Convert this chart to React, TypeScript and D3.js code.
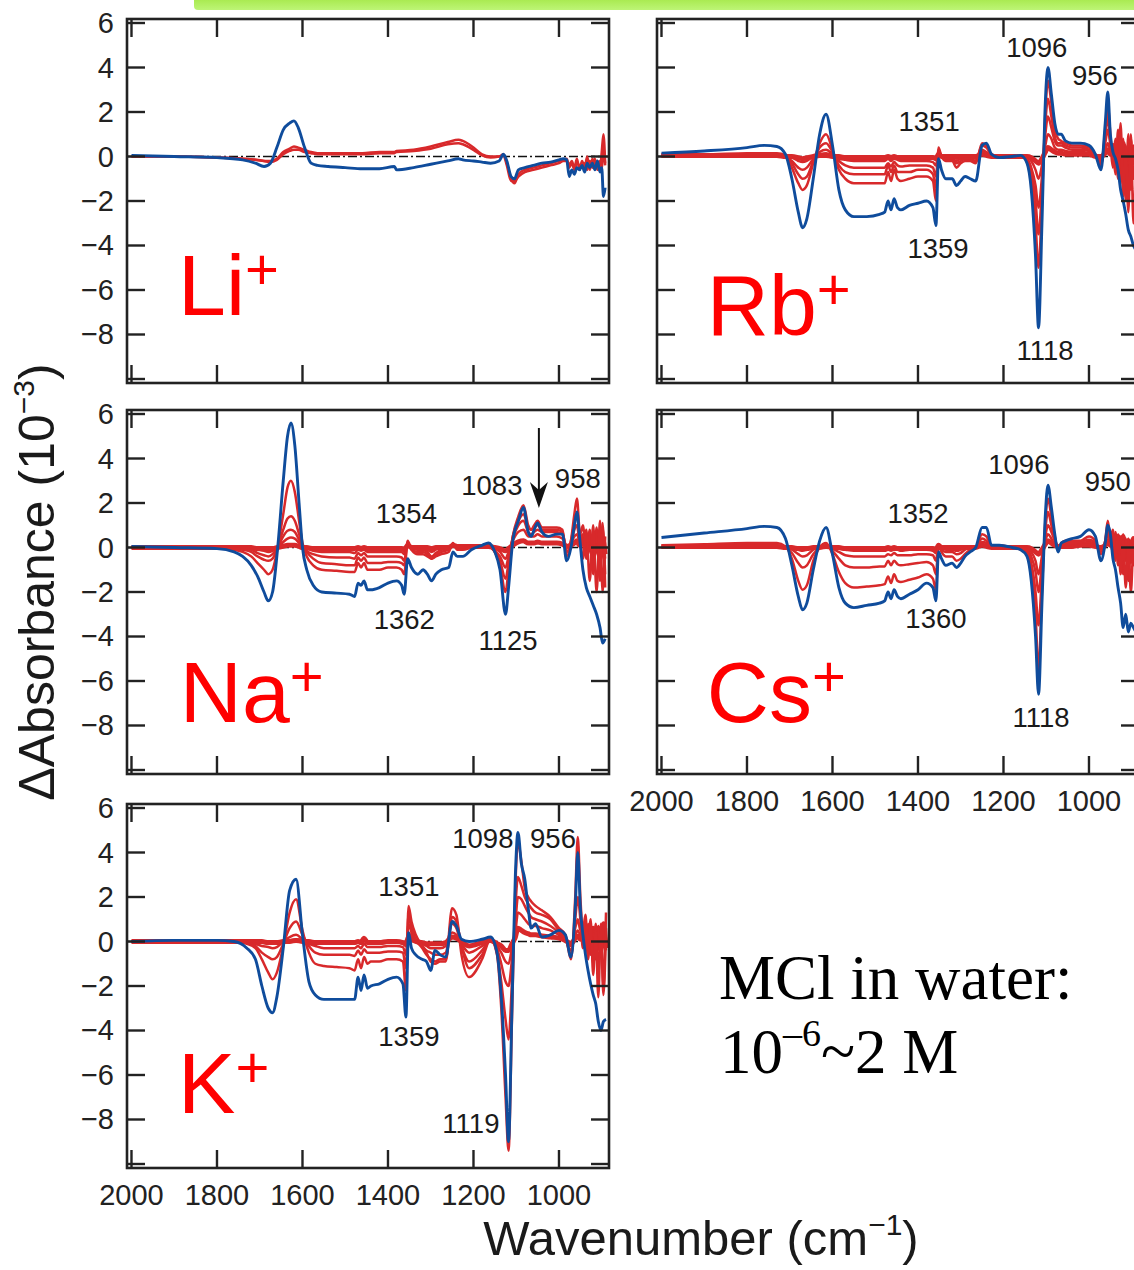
import React from 'react';
import * as d3 from 'd3';

const W = 1134;
const H = 1270;
const PW = 482;
const PH = 364;

// wavenumber grids (cm-1)
const liWn = [2000, 1900, 1800, 1740, 1710, 1690, 1675, 1660, 1645, 1630, 1620, 1610, 1595, 1580, 1565, 1540, 1500, 1460, 1420, 1385, 1380, 1340, 1300, 1260, 1235, 1225, 1200, 1180, 1160, 1140, 1130, 1122, 1112, 1104, 1095, 1080, 1060, 1040, 1020, 1000, 990, 982, 976, 970, 964, 958, 952, 946, 940, 934, 928, 922, 916, 910, 904, 900, 896, 892];
const naWn = [2000, 1900, 1800, 1760, 1740, 1720, 1705, 1690, 1680, 1670, 1658, 1645, 1635, 1627, 1618, 1608, 1600, 1590, 1575, 1555, 1520, 1490, 1478, 1470, 1463, 1456, 1448, 1440, 1420, 1400, 1380, 1368, 1362, 1354, 1345, 1330, 1318, 1308, 1298, 1288, 1275, 1258, 1248, 1238, 1225, 1205, 1180, 1165, 1150, 1138, 1125, 1118, 1108, 1095, 1083, 1072, 1065, 1058, 1050, 1040, 1025, 1005, 992, 982, 972, 964, 958, 952, 944, 936, 928, 920, 912, 904, 898, 892];
// shared by Rb, Cs and K
const heavyWn = [2000, 1900, 1800, 1760, 1730, 1710, 1695, 1680, 1670, 1660, 1645, 1630, 1615, 1600, 1585, 1570, 1550, 1520, 1490, 1478, 1470, 1463, 1456, 1448, 1440, 1420, 1400, 1380, 1365, 1358, 1352, 1345, 1335, 1320, 1310, 1300, 1290, 1278, 1265, 1250, 1240, 1228, 1210, 1180, 1160, 1145, 1135, 1125, 1118, 1110, 1102, 1096, 1088, 1080, 1072, 1065, 1055, 1040, 1020, 1000, 985, 972, 962, 956, 950, 944, 938, 932, 926, 920, 914, 908, 902, 896, 890];

// Li+  (ΔA, 10^-3)
const liBlue = [0.05, 0.0, -0.05, -0.15, -0.3, -0.45, -0.3, 0.4, 1.2, 1.5, 1.6, 1.3, 0.4, -0.3, -0.4, -0.45, -0.5, -0.55, -0.55, -0.45, -0.6, -0.5, -0.35, -0.2, -0.1, -0.15, -0.2, -0.25, -0.3, -0.2, 0.1, -0.2, -0.9, -1.0, -0.6, -0.5, -0.4, -0.3, -0.25, -0.15, -0.1, -0.15, -0.9, -0.6, -0.8, -0.5, -0.6, -0.4, -0.7, -0.3, -0.5, -0.3, -0.6, -0.2, -0.7, -0.5, -1.8, -1.4];
const liRed1 = [0.0, 0.0, -0.05, -0.1, -0.15, -0.2, -0.2, -0.1, 0.2, 0.35, 0.45, 0.4, 0.3, 0.2, 0.15, 0.15, 0.15, 0.15, 0.2, 0.2, 0.25, 0.3, 0.45, 0.65, 0.75, 0.7, 0.4, 0.1, 0.0, 0.0, 0.1, -0.3, -1.0, -1.2, -0.8, -0.6, -0.5, -0.4, -0.3, -0.2, -0.15, -0.1, -0.4, -0.2, -0.5, -0.1, -0.6, -0.2, -0.5, 0.0, -0.6, -0.1, -0.4, -0.2, -0.5, 0.2, 1.0, -0.3];
const liRed2 = [0.0, 0.0, -0.05, -0.1, -0.15, -0.2, -0.25, -0.15, 0.1, 0.25, 0.3, 0.3, 0.2, 0.15, 0.1, 0.1, 0.1, 0.1, 0.15, 0.15, 0.2, 0.25, 0.35, 0.55, 0.6, 0.55, 0.3, 0.05, -0.05, 0.0, 0.05, -0.4, -1.1, -1.1, -0.9, -0.7, -0.6, -0.5, -0.4, -0.3, -0.2, -0.2, -0.5, -0.3, -0.6, -0.3, -0.4, -0.5, -0.3, -0.6, -0.2, -0.5, -0.1, -0.6, -0.2, -0.6, 0.4, -0.4];

// Rb+
const rbBlue = [0.15, 0.25, 0.4, 0.5, 0.45, 0.1, -1.0, -2.5, -3.2, -2.8, -1.0, 1.0, 1.9, 0.5, -1.5, -2.4, -2.7, -2.7, -2.6, -2.5, -2.0, -2.4, -1.9, -2.3, -2.4, -2.2, -2.1, -2.0, -2.3, -3.1, -0.1, -0.6, -1.0, -1.0, -1.3, -1.1, -0.9, -1.0, -1.1, 0.5, 0.6, 0.1, -0.05, 0.0, 0.05, -0.3, -1.5, -4.5, -7.7, -3.0, 2.5, 4.0, 2.8, 1.5, 1.0, 1.0, 0.7, 0.6, 0.6, 0.5, 0.1, -0.6, 1.5, 2.9, 1.0, 0.2, -0.1, -0.6, -1.5, -2.0, -2.6, -3.3, -3.6, -4.0, -4.2];
const rbRed1 = [0.1, 0.1, 0.15, 0.15, 0.15, 0.05, -0.5, -1.2, -1.5, -1.3, -0.3, 0.6, 1.0, 0.3, -0.6, -1.0, -1.2, -1.2, -1.2, -1.2, -0.7, -1.1, -0.6, -1.0, -1.1, -1.0, -0.9, -0.9, -1.1, -2.0, 0.4, 0.0, -0.2, -0.2, -0.5, -0.3, -0.2, -0.2, -0.3, 0.6, 0.5, 0.1, 0.0, 0.0, 0.0, -0.2, -1.0, -3.0, -5.0, -2.0, 2.0, 3.4, 2.4, 1.2, 0.8, 0.7, 0.6, 0.5, 0.5, 0.4, 0.1, -0.4, 1.2, 2.3, 1.0, -0.2, 0.8, -1.0, 1.5, -1.8, 0.5, -2.5, 1.0, -3.0, 0.0];
const rbRed2 = [0.05, 0.1, 0.1, 0.1, 0.1, 0.0, -0.3, -0.8, -1.0, -0.9, -0.2, 0.4, 0.6, 0.2, -0.4, -0.7, -0.8, -0.8, -0.8, -0.8, -0.4, -0.7, -0.4, -0.7, -0.7, -0.7, -0.6, -0.6, -0.8, -1.4, 0.3, 0.0, -0.1, -0.1, -0.3, -0.2, -0.1, -0.1, -0.2, 0.5, 0.4, 0.1, 0.0, 0.0, 0.0, -0.1, -0.7, -2.0, -3.5, -1.4, 1.5, 2.6, 1.8, 0.9, 0.6, 0.6, 0.5, 0.4, 0.4, 0.3, 0.0, -0.3, 0.9, 1.8, 0.7, 0.3, -0.8, 1.2, -1.2, 0.8, -2.0, 1.0, -1.5, 0.5, -2.0];
const rbRed3 = [0.05, 0.05, 0.05, 0.05, 0.05, 0.0, -0.2, -0.5, -0.6, -0.5, -0.1, 0.2, 0.3, 0.1, -0.2, -0.4, -0.5, -0.5, -0.5, -0.5, -0.3, -0.45, -0.25, -0.4, -0.45, -0.4, -0.4, -0.4, -0.5, -0.9, 0.2, 0.0, -0.1, -0.1, -0.2, -0.1, -0.1, -0.05, -0.1, 0.3, 0.2, 0.05, 0.0, 0.0, 0.0, -0.1, -0.5, -1.3, -2.3, -0.9, 1.0, 1.8, 1.3, 0.7, 0.5, 0.5, 0.4, 0.3, 0.3, 0.25, 0.0, -0.2, 0.6, 1.2, 0.5, -0.5, 0.6, -0.8, 1.0, -1.0, 0.4, -1.2, 0.8, -1.0, 0.3];
const rbRed4 = [0.0, 0.0, 0.0, 0.0, 0.0, 0.0, -0.05, -0.2, -0.25, -0.2, 0.0, 0.1, 0.15, 0.05, -0.1, -0.15, -0.2, -0.2, -0.2, -0.2, -0.1, -0.2, -0.1, -0.15, -0.2, -0.2, -0.2, -0.2, -0.25, -0.4, 0.15, 0.0, 0.0, 0.0, -0.1, -0.05, 0.0, 0.0, -0.05, 0.2, 0.1, 0.0, 0.0, 0.0, 0.0, 0.0, -0.2, -0.6, -1.0, -0.4, 0.5, 1.0, 0.8, 0.4, 0.3, 0.3, 0.25, 0.2, 0.2, 0.15, 0.0, -0.1, 0.3, 0.6, 0.3, 0.4, -0.4, 0.6, -0.6, 0.3, -0.8, 0.5, -0.5, 0.2, -0.6];
const rbBand = [0.05, 0.05, 0.05, 0.05, 0.05, 0.0, 0.0, -0.05, -0.1, -0.05, 0.0, 0.05, 0.05, 0.0, 0.0, -0.05, -0.05, -0.05, -0.05, -0.05, 0.0, -0.05, 0.0, -0.05, -0.05, -0.05, -0.05, -0.05, -0.05, -0.1, 0.1, 0.0, 0.0, 0.0, 0.0, 0.0, 0.0, 0.0, 0.0, 0.1, 0.05, 0.0, 0.0, 0.0, 0.0, 0.0, -0.05, -0.2, -0.3, -0.1, 0.2, 0.4, 0.3, 0.2, 0.15, 0.15, 0.1, 0.1, 0.1, 0.1, 0.0, 0.0, 0.15, 0.3, 0.1, 0.5, -0.3, 0.4, -0.4, 0.6, -0.5, 0.3, -0.3, 0.4, -0.2];

// Na+
const naBlue = [0.05, 0.0, -0.05, -0.2, -0.4, -0.8, -1.3, -2.0, -2.4, -2.0, 0.0, 3.0, 5.0, 5.6, 4.6, 2.0, 0.0, -1.0, -1.7, -2.0, -2.05, -2.1, -2.2, -1.6, -1.7, -1.5, -1.9, -1.9, -1.8, -1.6, -1.5, -1.7, -2.1, -0.5, -0.9, -1.2, -1.0, -1.2, -1.5, -1.2, -1.0, -0.9, -0.2, -0.4, -0.4, -0.1, 0.1, 0.2, -0.2, -1.0, -3.0, -1.8, 0.3, 1.2, 1.8, 0.7, 0.5, 0.8, 1.1, 0.7, 0.5, 0.6, 0.6, -0.6, 0.0, 1.0, 1.6, 0.5, -1.0, -1.8, -2.2, -2.6, -3.0, -3.6, -4.3, -4.1];
const naRed1 = [0.0, 0.0, 0.0, -0.1, -0.2, -0.4, -0.7, -1.0, -1.2, -1.0, 0.0, 1.5, 2.7, 3.0, 2.5, 1.2, 0.2, -0.4, -0.8, -1.0, -1.05, -1.1, -1.1, -0.7, -0.9, -0.7, -1.0, -1.0, -1.0, -0.9, -0.9, -1.0, -1.2, 0.3, -0.1, -0.3, -0.3, -0.4, -0.5, -0.4, -0.3, -0.2, 0.2, -0.1, -0.1, 0.0, 0.1, 0.1, -0.2, -0.8, -2.0, -1.0, 0.5, 1.4, 1.9, 1.0, 0.8, 1.0, 1.2, 0.9, 0.9, 0.9, 0.8, -0.4, 0.3, 1.5, 2.2, 0.7, -0.5, 0.8, -1.5, 1.0, -2.0, 1.2, -2.0, 0.5];
const naRed2 = [0.0, 0.0, 0.0, -0.05, -0.1, -0.2, -0.4, -0.55, -0.6, -0.5, 0.0, 0.8, 1.3, 1.4, 1.2, 0.6, 0.1, -0.2, -0.5, -0.7, -0.75, -0.8, -0.8, -0.45, -0.6, -0.45, -0.7, -0.7, -0.7, -0.65, -0.65, -0.7, -0.8, 0.25, -0.1, -0.2, -0.2, -0.3, -0.5, -0.35, -0.2, -0.1, 0.15, 0.0, 0.0, 0.0, 0.05, 0.05, -0.2, -0.6, -1.4, -0.7, 0.5, 1.2, 1.5, 0.9, 0.8, 0.9, 1.0, 0.8, 0.8, 0.8, 0.7, -0.2, 0.3, 1.1, 1.5, 0.5, 1.0, -0.5, 0.8, -1.2, 0.9, -1.5, 1.1, -1.8];
const naRed3 = [0.0, 0.0, 0.0, 0.0, -0.05, -0.1, -0.25, -0.35, -0.4, -0.3, 0.0, 0.5, 0.75, 0.8, 0.7, 0.35, 0.05, -0.15, -0.3, -0.4, -0.45, -0.45, -0.5, -0.25, -0.35, -0.25, -0.4, -0.4, -0.4, -0.4, -0.4, -0.45, -0.6, 0.2, -0.05, -0.1, -0.1, -0.2, -0.4, -0.25, -0.1, -0.05, 0.1, 0.0, 0.0, 0.0, 0.05, 0.05, -0.15, -0.4, -0.9, -0.4, 0.4, 1.0, 1.2, 0.7, 0.6, 0.7, 0.8, 0.7, 0.7, 0.7, 0.6, 0.0, 0.2, 0.8, 1.0, 0.4, 0.6, -0.2, 0.6, -0.8, 0.7, -1.0, 0.9, -1.2];
const naRed4 = [0.0, 0.0, 0.0, 0.0, 0.0, -0.05, -0.1, -0.15, -0.2, -0.15, 0.0, 0.25, 0.4, 0.45, 0.4, 0.2, 0.0, -0.05, -0.15, -0.2, -0.2, -0.2, -0.25, -0.1, -0.15, -0.1, -0.2, -0.2, -0.2, -0.2, -0.2, -0.2, -0.3, 0.15, 0.0, -0.05, -0.05, -0.1, -0.2, -0.1, 0.0, 0.0, 0.1, 0.05, 0.05, 0.05, 0.05, 0.05, -0.05, -0.2, -0.5, -0.2, 0.3, 0.7, 0.8, 0.5, 0.5, 0.5, 0.6, 0.5, 0.5, 0.5, 0.4, 0.1, 0.2, 0.5, 0.6, 0.3, 0.5, 0.0, 0.5, -0.4, 0.6, -0.6, 0.5, -0.5];
const naBand = [0.0, 0.0, 0.0, 0.0, 0.0, 0.0, -0.05, -0.05, -0.05, -0.05, 0.0, 0.05, 0.1, 0.1, 0.1, 0.05, 0.0, 0.0, -0.05, -0.05, -0.05, -0.05, -0.05, 0.0, -0.05, 0.0, -0.05, -0.05, -0.05, -0.05, -0.05, -0.05, -0.1, 0.1, 0.0, 0.0, 0.0, 0.0, -0.05, 0.0, 0.0, 0.0, 0.1, 0.05, 0.05, 0.05, 0.05, 0.05, 0.0, -0.05, -0.15, -0.05, 0.1, 0.25, 0.3, 0.2, 0.2, 0.2, 0.25, 0.2, 0.2, 0.2, 0.15, 0.05, 0.1, 0.2, 0.3, 0.1, 0.4, -0.3, 0.5, -0.4, 0.6, -0.5, 0.4, -0.3];

// Cs+
const csBlue = [0.45, 0.65, 0.85, 0.95, 0.9, 0.4, -0.8, -2.2, -2.8, -2.5, -1.0, 0.3, 0.9, -0.3, -1.8, -2.5, -2.7, -2.6, -2.5, -2.4, -2.0, -2.3, -1.9, -2.2, -2.3, -2.1, -1.9, -1.6, -1.8, -2.4, -0.2, -0.5, -0.8, -0.7, -0.9, -0.7, -0.4, -0.2, 0.0, 0.9, 0.9, 0.1, 0.1, 0.0, -0.1, -0.4, -1.5, -4.0, -6.6, -2.5, 1.5, 2.8, 1.8, 0.6, -0.2, 0.2, 0.3, 0.4, 0.5, 0.8, 0.5, -0.6, 0.2, 1.0, 0.6, -0.5, -1.0, -1.8, -2.5, -3.6, -3.0, -3.8, -3.4, -3.6, -3.8];
const csRed1 = [0.1, 0.15, 0.2, 0.2, 0.2, 0.05, -0.5, -1.5, -1.9, -1.7, -0.6, 0.0, 0.2, -0.3, -1.1, -1.6, -1.8, -1.75, -1.7, -1.65, -1.3, -1.6, -1.2, -1.5, -1.55, -1.45, -1.35, -1.2, -1.4, -1.9, 0.1, -0.2, -0.4, -0.4, -0.6, -0.5, -0.3, -0.1, 0.0, 0.6, 0.5, 0.1, 0.1, 0.0, -0.1, -0.3, -1.0, -3.0, -5.5, -2.0, 1.2, 2.2, 1.4, 0.5, -0.1, 0.2, 0.3, 0.3, 0.3, 0.5, 0.3, -0.3, 0.3, 1.2, 0.4, 0.8, -0.6, 0.6, -1.2, 0.3, -1.8, 0.2, -2.0, 0.0, -1.5];
const csRed2 = [0.05, 0.1, 0.1, 0.1, 0.1, 0.0, -0.25, -0.7, -0.9, -0.8, -0.3, 0.0, 0.1, -0.15, -0.5, -0.8, -0.9, -0.9, -0.85, -0.85, -0.6, -0.8, -0.6, -0.75, -0.8, -0.75, -0.7, -0.65, -0.8, -1.2, 0.15, -0.1, -0.2, -0.2, -0.3, -0.25, -0.1, 0.0, 0.0, 0.4, 0.3, 0.05, 0.05, 0.0, -0.05, -0.2, -0.7, -2.0, -3.5, -1.2, 0.8, 1.6, 1.0, 0.4, 0.0, 0.15, 0.2, 0.2, 0.25, 0.35, 0.2, -0.2, 0.3, 0.9, 0.3, -0.2, 0.7, -0.8, 0.5, -1.2, 0.4, -1.5, 0.2, -0.8, 0.3];
const csRed3 = [0.0, 0.05, 0.05, 0.05, 0.05, 0.0, -0.1, -0.3, -0.4, -0.35, -0.1, 0.0, 0.05, -0.05, -0.2, -0.35, -0.4, -0.4, -0.4, -0.4, -0.3, -0.35, -0.25, -0.35, -0.35, -0.35, -0.3, -0.3, -0.35, -0.6, 0.1, 0.0, -0.1, -0.1, -0.15, -0.1, 0.0, 0.0, 0.0, 0.25, 0.2, 0.0, 0.0, 0.0, 0.0, -0.1, -0.4, -1.1, -2.0, -0.7, 0.5, 1.0, 0.7, 0.3, 0.05, 0.1, 0.15, 0.15, 0.2, 0.25, 0.15, -0.1, 0.2, 0.6, 0.2, 0.4, -0.3, 0.5, -0.5, 0.2, -0.6, 0.4, -0.7, 0.1, -0.4];
const csRed4 = [0.0, 0.0, 0.0, 0.0, 0.0, 0.0, -0.05, -0.1, -0.15, -0.1, 0.0, 0.0, 0.0, 0.0, -0.05, -0.1, -0.15, -0.15, -0.15, -0.15, -0.1, -0.15, -0.1, -0.1, -0.15, -0.1, -0.1, -0.1, -0.15, -0.25, 0.05, 0.0, 0.0, 0.0, -0.05, 0.0, 0.0, 0.0, 0.0, 0.15, 0.1, 0.0, 0.0, 0.0, 0.0, 0.0, -0.2, -0.6, -1.2, -0.4, 0.3, 0.6, 0.4, 0.15, 0.0, 0.05, 0.1, 0.1, 0.1, 0.15, 0.1, 0.0, 0.1, 0.3, 0.1, 0.6, -0.3, 0.5, -0.4, 0.6, -0.5, 0.3, -0.4, 0.2, -0.3];
const csBand = [0.05, 0.05, 0.05, 0.05, 0.05, 0.0, 0.0, -0.05, -0.05, -0.05, 0.0, 0.0, 0.05, 0.0, 0.0, -0.05, -0.05, -0.05, -0.05, -0.05, 0.0, -0.05, 0.0, -0.05, -0.05, -0.05, -0.05, -0.05, -0.05, -0.1, 0.1, 0.0, 0.0, 0.0, 0.0, 0.0, 0.0, 0.0, 0.0, 0.1, 0.05, 0.0, 0.0, 0.0, 0.0, 0.0, -0.05, -0.2, -0.3, -0.1, 0.15, 0.3, 0.2, 0.1, 0.05, 0.05, 0.05, 0.05, 0.1, 0.1, 0.05, 0.0, 0.1, 0.3, 0.1, 0.4, -0.3, 0.5, -0.4, 0.5, -0.5, 0.3, -0.3, 0.4, -0.2];

// K+
const kBlue = [0.0, 0.05, 0.05, 0.0, -0.3, -0.8, -2.0, -3.0, -3.2, -2.5, -0.3, 2.3, 2.8, 0.3, -1.8, -2.4, -2.6, -2.6, -2.6, -2.6, -1.6, -2.2, -1.5, -2.1, -2.0, -1.9, -1.7, -1.6, -1.9, -3.4, 0.4, -0.3, -0.6, -0.8, -0.9, -1.3, -0.4, -0.6, -0.7, 0.9, 0.7, 0.1, 0.0, 0.1, 0.2, -0.5, -2.5, -6.0, -9.0, -3.0, 3.0, 4.9, 3.5, 2.8, 1.5, 0.6, 0.8, 0.2, 0.3, 0.5, 0.3, -0.7, 1.5, 4.0, 1.5, 0.3, -0.6, -1.3, -1.9, -2.4, -2.8, -3.6, -4.0, -3.6, -3.5];
const kRed1 = [0.0, 0.0, 0.05, 0.0, -0.1, -0.3, -0.8, -1.4, -1.7, -1.4, -0.2, 1.3, 1.9, 0.5, -0.5, -1.0, -1.1, -1.15, -1.2, -1.3, -0.8, -1.2, -0.7, -1.0, -0.9, -0.9, -0.8, -0.8, -0.9, -2.2, 1.6, 0.9, 0.3, -0.2, -0.5, -0.9, -1.0, -0.9, -0.9, 1.5, 1.2, -0.6, -1.6, -0.8, 0.1, -0.6, -3.0, -7.0, -9.4, -3.5, 2.5, 4.5, 3.6, 2.4, 2.0, 1.8, 1.6, 1.4, 1.1, 0.6, 0.3, -0.8, 2.0, 4.7, 2.0, 0.5, 1.2, -0.5, 1.0, -1.5, 0.5, -2.5, 0.8, -2.0, 1.3];
const kRed2 = [0.0, 0.0, 0.0, 0.0, -0.05, -0.2, -0.5, -0.7, -0.8, -0.7, -0.1, 0.6, 0.9, 0.3, -0.2, -0.5, -0.6, -0.6, -0.6, -0.65, -0.4, -0.6, -0.35, -0.5, -0.5, -0.5, -0.45, -0.45, -0.5, -1.2, 1.2, 0.6, 0.1, -0.3, -0.6, -0.8, -0.9, -0.8, -0.8, 1.1, 0.9, -0.2, -1.2, -0.6, 0.1, -0.5, -1.8, -3.5, -4.4, -1.8, 1.5, 2.9, 2.5, 2.0, 1.7, 1.5, 1.3, 1.2, 1.0, 0.5, 0.2, -0.6, 1.0, 2.0, 1.0, -0.3, 0.9, -0.8, 0.6, -1.0, 0.8, -1.5, 0.4, -2.4, 0.6];
const kRed3 = [0.0, 0.0, 0.0, 0.0, 0.0, -0.1, -0.2, -0.25, -0.3, -0.25, 0.0, 0.2, 0.3, 0.1, -0.1, -0.2, -0.3, -0.3, -0.3, -0.3, -0.2, -0.3, -0.1, -0.25, -0.25, -0.25, -0.2, -0.2, -0.25, -0.6, 0.8, 0.4, 0.0, -0.2, -0.4, -0.5, -0.6, -0.6, -0.5, 0.8, 0.6, -0.2, -0.9, -0.4, 0.1, -0.3, -1.0, -1.8, -2.0, -0.8, 0.8, 2.0, 1.9, 1.6, 1.3, 1.1, 1.0, 0.9, 0.7, 0.4, 0.1, -0.4, 0.6, 1.0, 0.5, 0.6, -0.4, 0.8, -0.6, 0.5, -0.8, 0.7, -0.6, 0.3, -0.4];
const kRed4 = [0.0, 0.0, 0.0, 0.0, 0.0, 0.0, -0.05, -0.1, -0.1, -0.1, 0.0, 0.05, 0.1, 0.05, -0.05, -0.1, -0.1, -0.1, -0.1, -0.1, -0.05, -0.1, 0.1, -0.1, -0.1, -0.1, -0.05, -0.05, -0.1, -0.2, 0.4, 0.2, 0.0, -0.1, -0.2, -0.3, -0.3, -0.3, -0.2, 0.4, 0.3, -0.1, -0.5, -0.2, 0.05, -0.2, -0.5, -0.9, -1.0, -0.3, 0.4, 1.3, 1.2, 1.0, 0.8, 0.7, 0.7, 0.6, 0.5, 0.3, 0.1, -0.2, 0.3, 0.5, 0.3, 0.3, -0.2, 0.5, -0.3, 0.4, -0.4, 0.5, -0.3, 0.2, -0.2];
const kBand = [0.0, 0.0, 0.0, 0.0, 0.0, 0.0, 0.0, -0.05, -0.05, -0.05, 0.0, 0.0, 0.05, 0.0, 0.0, -0.05, -0.05, -0.05, -0.05, -0.05, 0.0, -0.05, 0.15, -0.05, -0.05, -0.05, 0.0, 0.0, -0.05, -0.1, 0.2, 0.1, 0.0, -0.05, -0.1, -0.1, -0.1, -0.1, -0.05, 0.2, 0.15, 0.0, -0.2, -0.05, 0.05, -0.1, -0.2, -0.4, -0.4, -0.1, 0.2, 0.6, 0.5, 0.4, 0.35, 0.3, 0.3, 0.25, 0.2, 0.15, 0.05, -0.1, 0.15, 0.25, 0.1, 0.4, -0.2, 0.5, -0.3, 0.6, -0.4, 0.6, -0.4, 0.8, -0.3];

// peak labels: [text, wavenumber, ΔA at text baseline]
const rbNotes: [string, number, number][] = [['1351', 1374, 1.15], ['1359', 1353, -4.56], ['1096', 1122, 4.47], ['956', 986, 3.21], ['1118', 1103, -9.15]];
const naNotes: [string, number, number][] = [['1354', 1357, 1.1], ['1362', 1362, -3.66], ['1083', 1157, 2.36], ['958', 956, 2.67], ['1125', 1119, -4.6]];
const csNotes: [string, number, number][] = [['1352', 1400, 1.1], ['1360', 1358, -3.62], ['1096', 1164, 3.3], ['950', 956, 2.54], ['1118', 1112, -8.07]];
const kNotes: [string, number, number][] = [['1351', 1351, 2.05], ['1359', 1351, -4.7], ['1098', 1178, 4.2], ['956', 1014, 4.2], ['1119', 1206, -8.6]];
const naArrow = { wn: 1047, from: 5.37, to: 1.78 };

const yTicks = [6, 4, 2, 0, -2, -4, -6, -8, -10];
const yTickLabels = [6, 4, 2, 0, -2, -4, -6, -8];
const xTicks = [2000, 1800, 1600, 1400, 1200, 1000];

const BLUE = '#0f4c9c';
const RED = '#d8292b';
const AXIS = '#222';
const SANS = '"Liberation Sans", Arial, Helvetica, sans-serif';
const SERIF = '"Liberation Serif", "Times New Roman", serif';

const xScale = d3.scaleLinear().domain([2010.5, 883]).range([0, PW]);
const yScale = d3.scaleLinear().domain([6.18, -10.18]).range([0, PH]);

type PanelDef = {
  id: string;
  ion: string;
  left: number;
  top: number;
  wn: number[];
  blue: number[];
  reds: number[][];
  band: number[];
  ionPos: [number, number];
  notes: [string, number, number][];
  yLabels: boolean;
  xLabels: boolean;
  arrow?: { wn: number; from: number; to: number };
};

const panels: PanelDef[] = [
  { id: 'li', ion: 'Li', left: 127, top: 19, wn: liWn, blue: liBlue, reds: [liRed2, liRed1], band: [], ionPos: [1891, -7.12], notes: [], yLabels: true, xLabels: false },
  { id: 'rb', ion: 'Rb', left: 657, top: 19, wn: heavyWn, blue: rbBlue, reds: [rbRed4, rbRed3, rbRed2, rbRed1], band: rbBand, ionPos: [1894, -8.02], notes: rbNotes, yLabels: false, xLabels: false },
  { id: 'na', ion: 'Na', left: 127, top: 410, wn: naWn, blue: naBlue, reds: [naRed4, naRed3, naRed2, naRed1], band: naBand, ionPos: [1887, -7.84], notes: naNotes, yLabels: true, xLabels: false, arrow: naArrow },
  { id: 'cs', ion: 'Cs', left: 657, top: 410, wn: heavyWn, blue: csBlue, reds: [csRed4, csRed3, csRed2, csRed1], band: csBand, ionPos: [1894, -7.84], notes: csNotes, yLabels: false, xLabels: true },
  { id: 'k', ion: 'K', left: 127, top: 804, wn: heavyWn, blue: kBlue, reds: [kRed4, kRed3, kRed2, kRed1], band: kBand, ionPos: [1891, -7.71], notes: kNotes, yLabels: true, xLabels: true },
];

const fmt = (v: number) => (v < 0 ? `\u2212${Math.abs(v)}` : `${v}`);

const Panel = ({ p }: { p: PanelDef }) => {
  const line = d3
    .line<number>()
    .x((_, i) => xScale(p.wn[i]))
    .y((d) => yScale(d))
    .curve(d3.curveMonotoneX);
  const tick = 18;
  return (
    <g transform={`translate(${p.left},${p.top})`}>
      <defs>
        <clipPath id={`clip-${p.id}`}>
          <rect x={0} y={0} width={PW} height={PH} />
        </clipPath>
      </defs>
      <g clipPath={`url(#clip-${p.id})`}>
        <line x1={0} x2={PW} y1={yScale(0)} y2={yScale(0)} stroke="#111" strokeWidth={1.3} strokeDasharray="9,3,2,3" />
        {p.band.length > 0 && (
          <path d={line(p.band) || ''} fill="none" stroke={RED} strokeWidth={5} strokeLinejoin="round" />
        )}
        {p.reds.map((r, i) => (
          <path key={i} d={line(r) || ''} fill="none" stroke={RED} strokeWidth={2.5} strokeLinejoin="round" />
        ))}
        <path d={line(p.blue) || ''} fill="none" stroke={BLUE} strokeWidth={2.9} strokeLinejoin="round" />
      </g>
      {yTicks.map((t) => (
        <g key={`y${t}`}>
          <line x1={0} x2={tick} y1={yScale(t)} y2={yScale(t)} stroke={AXIS} strokeWidth={2.4} />
          <line x1={PW - tick} x2={PW} y1={yScale(t)} y2={yScale(t)} stroke={AXIS} strokeWidth={2.4} />
        </g>
      ))}
      {xTicks.map((t) => (
        <g key={`x${t}`}>
          <line x1={xScale(t)} x2={xScale(t)} y1={0} y2={tick} stroke={AXIS} strokeWidth={2.4} />
          <line x1={xScale(t)} x2={xScale(t)} y1={PH - tick} y2={PH} stroke={AXIS} strokeWidth={2.4} />
        </g>
      ))}
      <rect x={0} y={0} width={PW} height={PH} fill="none" stroke={AXIS} strokeWidth={2.6} />
      {p.yLabels &&
        yTickLabels.map((t) => (
          <text key={`yl${t}`} x={-13} y={yScale(t) + 10} textAnchor="end" fontFamily={SANS} fontSize={29} fill="#222">
            {fmt(t)}
          </text>
        ))}
      {p.xLabels &&
        xTicks.map((t) => (
          <text key={`xl${t}`} x={xScale(t)} y={PH + 37} textAnchor="middle" fontFamily={SANS} fontSize={29} fill="#222">
            {t}
          </text>
        ))}
      {p.notes.map(([txt, w, v]) => (
        <text key={txt + w} x={xScale(w)} y={yScale(v)} textAnchor="middle" fontFamily={SANS} fontSize={27.5} fill="#1a1a1a">
          {txt}
        </text>
      ))}
      {p.arrow && (
        <g>
          <line x1={xScale(p.arrow.wn)} x2={xScale(p.arrow.wn)} y1={yScale(p.arrow.from)} y2={yScale(p.arrow.to) - 14} stroke="#111" strokeWidth={2} />
          <path
            d={`M${xScale(p.arrow.wn) - 9},${yScale(p.arrow.to) - 26} L${xScale(p.arrow.wn)},${yScale(p.arrow.to)} L${xScale(p.arrow.wn) + 9},${yScale(p.arrow.to) - 26} L${xScale(p.arrow.wn)},${yScale(p.arrow.to) - 18} Z`}
            fill="#111"
          />
        </g>
      )}
      <text x={xScale(p.ionPos[0])} y={yScale(p.ionPos[1])} fontFamily={SANS} fontSize={86} fill="#ff0000">
        {p.ion}
        <tspan fontSize={58} dy={-26}>+</tspan>
      </text>
    </g>
  );
};

export default function App() {
  return (
    <svg
      width={W}
      height={H}
      viewBox={`0 0 ${W} ${H}`}
      style={{ position: 'absolute', left: 0, top: 0, background: '#fff', overflow: 'hidden' }}
    >
      <defs>
        <linearGradient id="greenBar" x1="0" x2="0" y1="0" y2="1">
          <stop offset="0" stopColor="#9ee43c" />
          <stop offset="1" stopColor="#bdf576" />
        </linearGradient>
      </defs>
      <rect x={194} y={-6} width={960} height={16} rx={4} fill="url(#greenBar)" />
      {panels.map((p) => (
        <Panel key={p.id} p={p} />
      ))}
      <text transform="translate(54,582) rotate(-90)" textAnchor="middle" fontFamily={SANS} fontSize={50} fill="#1a1a1a">
        ΔAbsorbance (10
        <tspan fontSize={30} dy={-20}>{'\u22123'}</tspan>
        <tspan dy={20}>)</tspan>
      </text>
      <text x={701} y={1255} textAnchor="middle" fontFamily={SANS} fontSize={49} fill="#1a1a1a">
        Wavenumber (cm
        <tspan fontSize={30} dy={-20}>{'\u22121'}</tspan>
        <tspan dy={20}>)</tspan>
      </text>
      <text x={719} y={999} fontFamily={SERIF} fontSize={63} fill="#000">
        MCl in water:
      </text>
      <text x={720} y={1073} fontFamily={SERIF} fontSize={63} fill="#000">
        10
        <tspan fontSize={38} dy={-27}>{'\u20136'}</tspan>
        <tspan dy={27}>~2 M</tspan>
      </text>
    </svg>
  );
}
